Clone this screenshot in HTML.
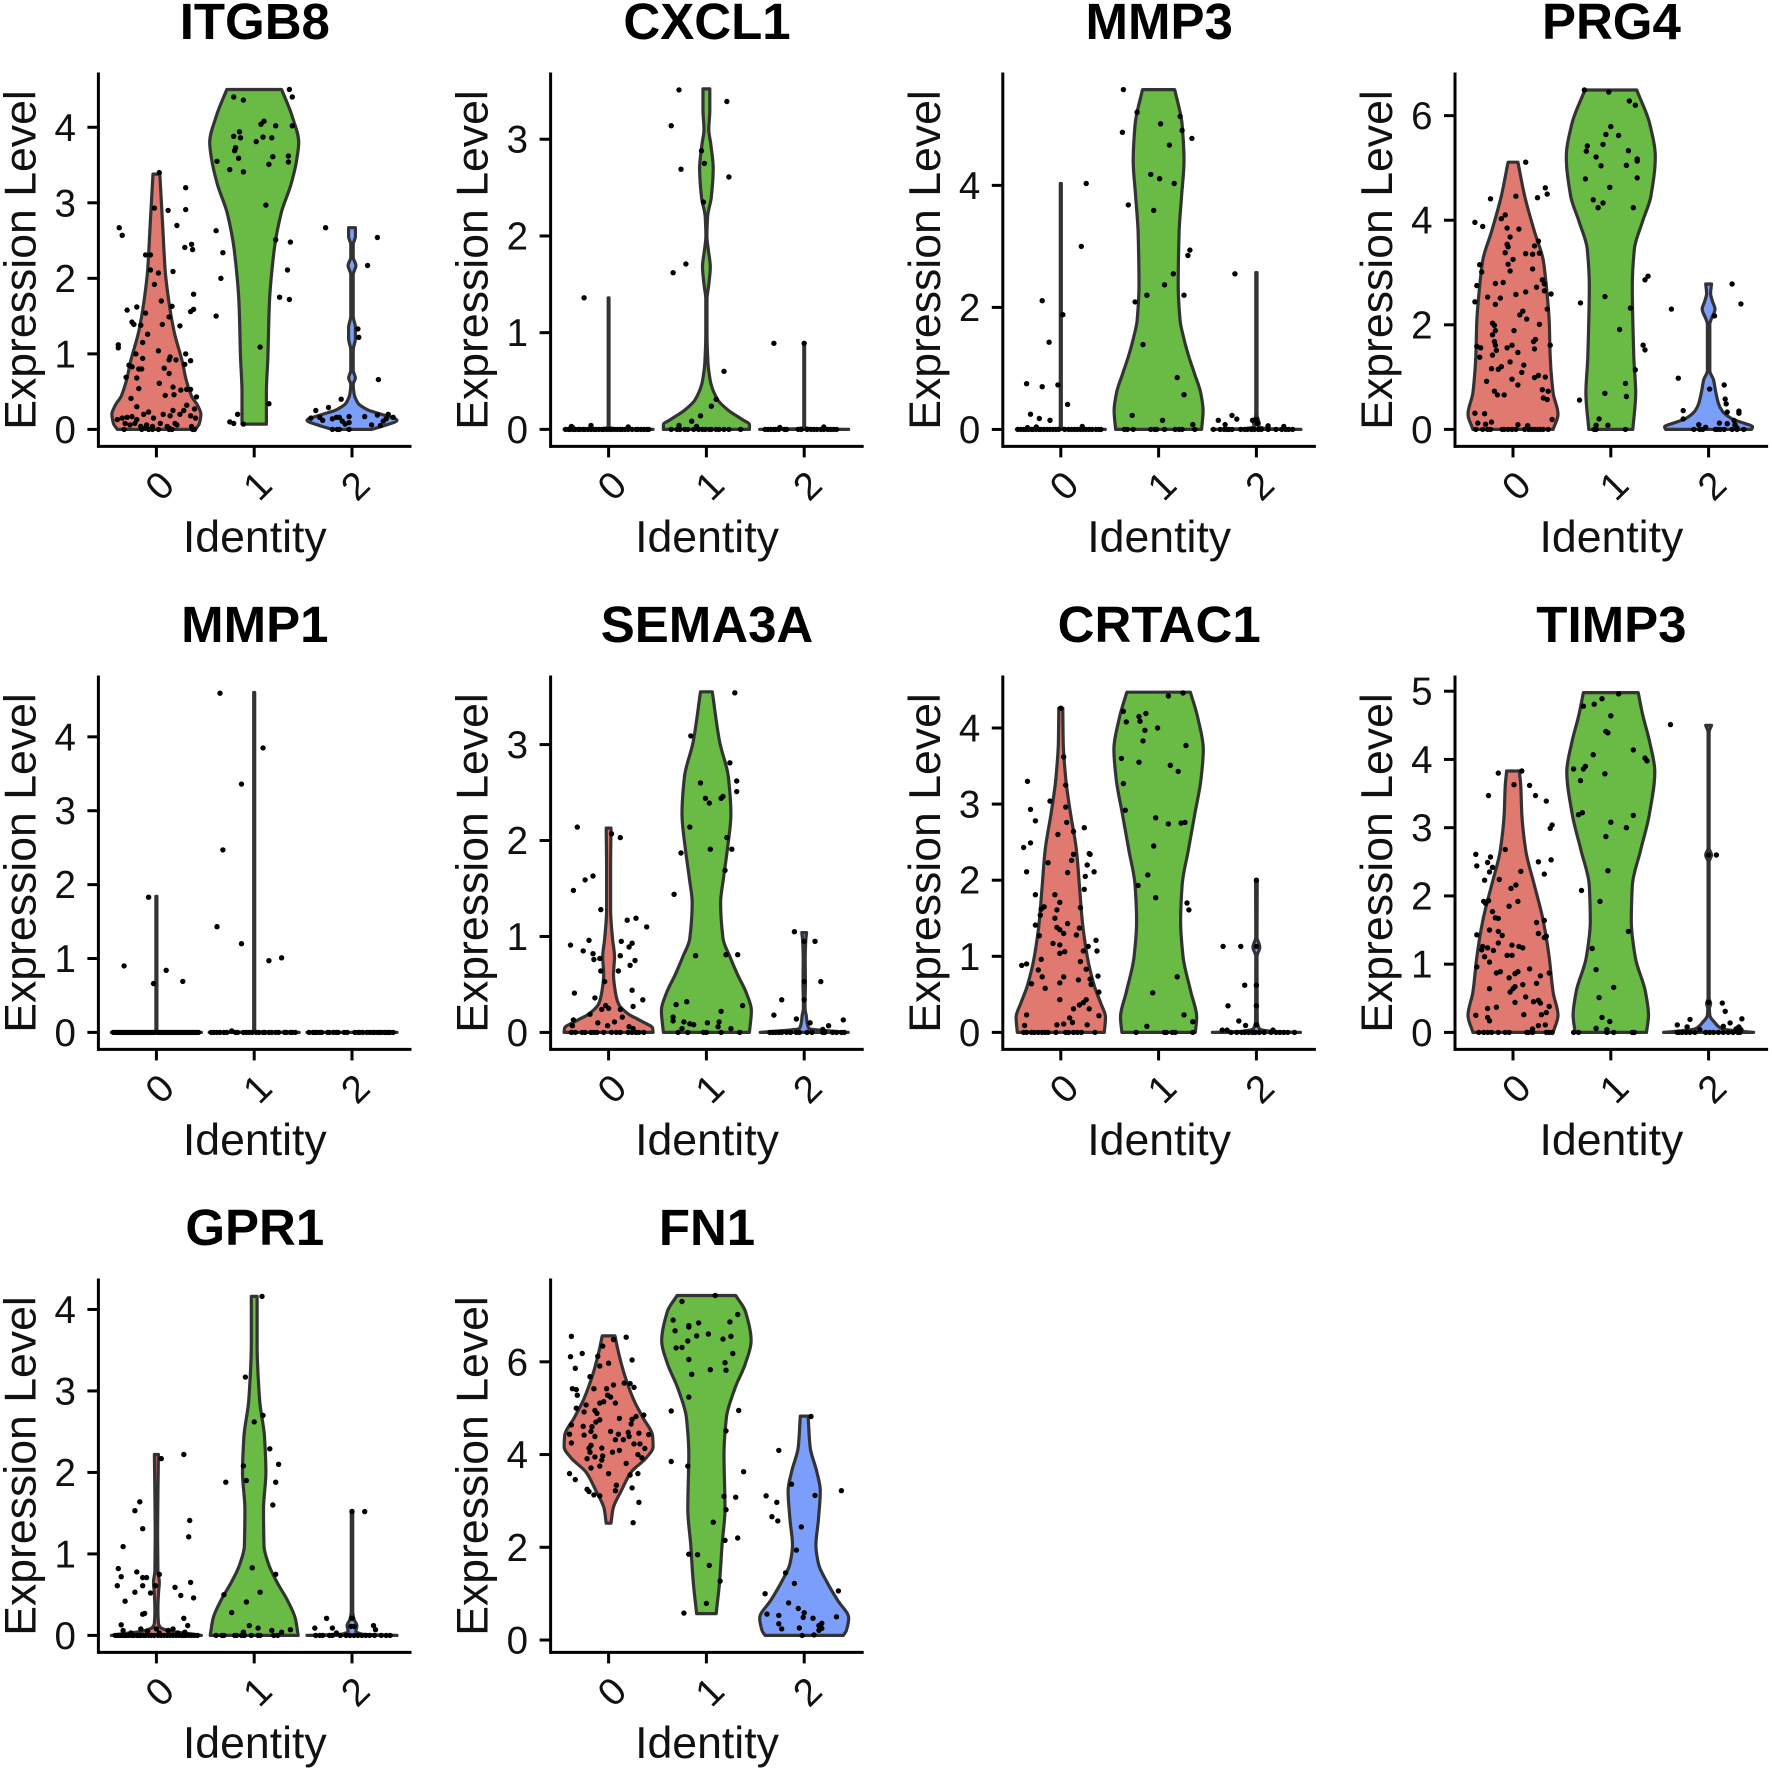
<!DOCTYPE html>
<html lang="en">
<head>
<meta charset="utf-8">
<title>Violin plots of gene expression by identity</title>
<style>
html,body{margin:0;padding:0;background:#fff;width:1772px;height:1770px;overflow:hidden}
svg{display:block;font-family:"Liberation Sans",Arial,sans-serif}
</style>
</head>
<body>
<svg id="chart" xmlns="http://www.w3.org/2000/svg" width="1772" height="1770" viewBox="0 0 1772 1770"></svg>
<script>
const identities=['0','1','2'];
const identityColors=['#E07A70','#6ABB45','#7A9EFA'];
const genes=['ITGB8','CXCL1','MMP3','PRG4','MMP1','SEMA3A','CRTAC1','TIMP3','GPR1','FN1'];
const yAxisTitle='Expression Level';
const xAxisTitle='Identity';

/* ITGB8 */
const ITGB8_ticks=[0,1,2,3,4];
const ITGB8_domain=[-.225,4.725];
const ITGB8_shape0=[[0,.40],[.08,.44],[.2,.455],[.32,.42],[.44,.36],[.68,.30],[.87,.27],[1.3,.18],[1.67,.13],[2.1,.09],[2.67,.065],[3.38,.035]];
const ITGB8_shape1=[[.07,.125],[.49,.125],[.96,.14],[1.67,.155],[2.38,.205],[2.86,.275],[3.24,.375],[3.57,.435],[3.8,.455],[4.14,.39],[4.5,.28]];
const ITGB8_shape2=[[0,.2],[.05,.33],[.12,.46],[.2,.3],[.26,.16],[.35,.06],[.48,.02],[.6,.012],[.68,.035],[.78,.012],[1.05,.012],[1.2,.035],[1.35,.035],[1.5,.012],[2.05,.012],[2.17,.04],[2.28,.012],[2.45,.012],[2.55,.035],[2.67,.035]];
const ITGB8_dots0=[[-.38,2.67],[-.35,2.57],[.3,3.2],[.3,2.91],[-.02,2.93],[.03,3.4],[.12,2.9],[.21,2.7],[.29,2.41],[.36,2.45],[.37,2.38],[-.11,2.31],[-.06,2.31],[-.06,2.11],[.02,2.07],[.17,2.09],[-.02,1.92],[.38,1.79],[.05,1.7],[.16,1.63],[-.2,1.62],[-.3,1.58],[.38,1.59],[.35,1.56],[-.11,1.54],[.13,1.49],[-.25,1.42],[-.23,1.39],[-.16,1.38],[.06,1.39],[.24,1.37],[-.09,1.26],[-.14,1.15],[-.39,1.12],[-.39,1.08],[.02,1.04],[-.21,1],[.3,1],[-.14,.94],[.14,.96],[.13,.92],[.2,.92],[.35,.91],[-.28,.85],[-.25,.83],[.29,.86],[-.18,.8],[-.15,.8],[.08,.81],[.13,.74],[-.31,.69],[-.2,.68],[.03,.61],[.17,.56],[-.18,.54],[.25,.52],[.31,.53],[.35,.53],[.18,.46],[.09,.45],[.41,.43],[-.26,.41],[-.2,.3],[.31,.32],[.17,.25],[.39,.27],[.28,.25],[-.4,.13],[-.35,.15],[-.3,.16],[-.25,.17],[-.2,.13],[-.13,.2],[-.08,.23],[-.03,.15],[.07,.2],[.14,.18],[.24,.2],[.35,.18],[.4,.15],[-.32,.08],[-.27,.06],[-.22,.08],[-.16,.04],[-.1,.06],[-.05,.01],[.04,.08],[.14,.01],[.21,.06],[.36,.04],[.11,.04],[.19,.08],[-.11,.02],[-.04,.04]];
const ITGB8_zero0=[-.33,-.15,-.08,-.04,.02,.13,.16,.37,.39];
const ITGB8_dots1=[[.36,4.5],[.39,4.4],[-.21,4.4],[-.11,4.36],[.1,4.08],[.07,4.04],[.22,4.02],[.39,4.02],[-.15,3.94],[-.21,3.88],[-.14,3.86],[.09,3.87],[.18,3.86],[.02,3.81],[-.19,3.73],[-.2,3.69],[.35,3.62],[.19,3.61],[-.16,3.59],[-.38,3.55],[.35,3.54],[.15,3.51],[-.25,3.44],[-.11,3.41],[.12,2.97],[-.39,2.63],[.22,2.51],[.37,2.48],[-.32,2.34],[.34,2.11],[-.34,2],[.26,1.75],[.36,1.72],[-.39,1.5],[.06,1.09],[.15,.34],[-.17,.2],[-.25,.1],[-.21,.08],[-.11,.07]];
const ITGB8_zero1=[];
const ITGB8_dots2=[[-.27,2.67],[.26,2.54],[.16,2.17],[.06,1.33],[.07,1.22],[.27,.66],[-.11,.4],[-.24,.29],[-.37,.25],[-.03,.17],[.13,.17],[.26,.19],[.37,.2],[-.16,.16],[-.33,.16],[-.03,.09],[-.1,.11],[.32,.11],[.2,.06],[.29,.05],[-.42,.15],[-.3,.12],[-.2,.14],[-.13,.16],[-.07,.07],[.35,.14],[.42,.16]];
const ITGB8_zero2=[-.2,-.15,-.13,-.03];

/* CXCL1 */
const CXCL1_ticks=[0,1,2,3];
const CXCL1_domain=[-.176,3.69];
const CXCL1_shape0=[[0,.455],[.008,.06],[.02,.004],[1.36,.004]];
const CXCL1_shape1=[[0,.44],[.05,.44],[.1,.37],[.2,.22],[.3,.12],[.4,.07],[.5,.04],[.7,.015],[1,.006],[1.35,.006],[1.5,.025],[1.68,.04],[1.85,.02],[2,.005],[2.2,.012],[2.4,.05],[2.7,.07],[2.95,.045],[3.1,.025],[3.3,.035],[3.52,.035]];
const CXCL1_shape2=[[0,.455],[.008,.06],[.02,.004],[.89,.004]];
const CXCL1_dots0=[[-.25,1.36],[-.38,.03],[-.37,.02],[-.18,.04],[.2,.025]];
const CXCL1_zero0=[-.44,-.41,-.39,-.36,-.34,-.31,-.29,-.26,-.24,-.21,-.18,-.15,-.13,-.1,-.07,-.05,-.02,.01,.03,.06,.09,.12,.14,.17,.2,.24,.28,.3,.33,.36,.39,.41];
const CXCL1_dots1=[[-.28,3.51],[.21,3.39],[-.36,3.14],[-.05,2.88],[-.02,2.75],[-.26,2.69],[.23,2.61],[-.03,2.35],[-.21,1.71],[-.34,1.62],[.18,.6],[.1,.31],[.05,.24],[-.06,.14],[-.15,.085],[-.28,.04],[-.1,.03]];
const CXCL1_zero1=[-.36,-.3,-.27,-.22,-.19,-.13,-.08,-.04,-.01,.03,.05,.1,.13,.18,.23,.35];
const CXCL1_dots2=[[-.31,.89],[0,.89],[-.25,.02],[.2,.025]];
const CXCL1_zero2=[-.4,-.37,-.34,-.31,-.29,-.26,-.2,-.18,-.06,-.03,.03,.07,.1,.13,.17,.2,.24,.27,.3,.33];

/* MMP3 */
const MMP3_ticks=[0,2,4];
const MMP3_domain=[-.278,5.85];
const MMP3_shape0=[[0,.455],[.01,.05],[.03,.005],[4.03,.005]];
const MMP3_shape1=[[0,.44],[.31,.455],[.6,.43],[.9,.37],[1.19,.31],[1.48,.26],[1.78,.22],[2.36,.2],[3.24,.21],[3.83,.235],[4.41,.26],[5,.24],[5.57,.165]];
const MMP3_shape2=[[0,.455],[.015,.1],[.05,.02],[.1,.03],[.15,.02],[.25,.006],[2.57,.006]];
const MMP3_dots0=[[.26,4.03],[.21,3],[-.19,2.11],[.02,1.88],[-.12,1.43],[-.35,.75],[-.19,.7],[-.03,.73],[.07,.41],[-.31,.25],[-.22,.18],[-.11,.15],[-.34,.03],[-.25,.04],[.22,.05]];
const MMP3_zero0=[-.44,-.41,-.38,-.36,-.33,-.3,-.28,-.25,-.22,-.2,-.17,-.14,-.11,-.08,-.05,-.02,.04,.08,.11,.14,.17,.2,.23,.26,.29,.32,.36,.39,.41];
const MMP3_dots1=[[-.36,5.57],[-.22,5.2],[.22,5.13],[.02,5.01],[.24,4.9],[-.37,4.87],[.34,4.77],[.11,4.66],[-.08,4.18],[.01,4.11],[.16,4.03],[-.31,3.68],[-.05,3.59],[.32,2.94],[.3,2.85],[.15,2.55],[.06,2.37],[-.12,2.2],[.26,2.2],[-.24,2.09],[-.16,1.39],[.19,.85],[.26,.57],[-.27,.23],[.04,.15],[.35,.08]];
const MMP3_zero1=[-.35,-.32,-.26,-.08,-.04,-.02,.06,.17,.21,.24,.37];
const MMP3_dots2=[[-.22,2.55],[-.39,.15],[-.25,.23],[-.2,.17],[-.32,.08],[-.04,.15],[0,.16],[.12,.06],[.28,.05],[.01,.1]];
const MMP3_zero2=[-.44,-.37,-.33,-.3,-.28,-.25,-.16,-.12,-.09,-.05,-.02,.02,.05,.12,.2,.26,.3,.33,.37];

/* PRG4 */
const PRG4_ticks=[0,2,4,6];
const PRG4_domain=[-.325,6.825];
const PRG4_shape0=[[0,.41],[.29,.46],[.7,.41],[1.39,.38],[2.07,.37],[2.75,.34],[3.23,.31],[3.78,.22],[4.46,.12],[5.11,.05]];
const PRG4_shape1=[[0,.225],[.7,.255],[1.39,.235],[2.75,.22],[3.44,.24],[3.98,.325],[4.46,.41],[5.21,.455],[5.83,.40],[6.49,.265]];
const PRG4_shape2=[[0,.44],[.05,.45],[.12,.36],[.2,.24],[.35,.14],[.5,.10],[.75,.07],[.95,.05],[1.12,.012],[1.7,.012],[2.02,.012],[2.12,.03],[2.3,.065],[2.45,.04],[2.6,.02],[2.78,.03]];
const PRG4_dots0=[[.13,5.11],[.33,4.62],[.35,4.5],[.25,4.43],[-.23,4.41],[.03,4.46],[-.08,4.1],[-.12,4.03],[-.39,3.96],[-.31,3.88],[-.06,3.85],[.06,3.83],[-.03,3.68],[.26,3.6],[-.06,3.54],[-.05,3.49],[.22,3.51],[-.08,3.38],[0,3.25],[.13,3.36],[.2,3.35],[.27,3.37],[-.05,3.16],[-.34,3.15],[.2,3.07],[-.03,3.03],[-.32,3.01],[-.1,2.81],[-.18,2.79],[.3,2.86],[.32,2.78],[-.37,2.75],[.24,2.72],[.13,2.63],[.32,2.65],[.39,2.59],[.03,2.58],[-.26,2.53],[-.13,2.51],[-.39,2.44],[-.18,2.39],[.35,2.3],[.1,2.26],[.07,2.19],[.14,2.11],[.27,2.01],[-.21,2.03],[-.19,1.99],[.01,1.89],[-.18,1.89],[-.21,1.81],[.23,1.72],[.21,1.68],[-.19,1.68],[-.18,1.61],[-.01,1.61],[.38,1.61],[-.37,1.59],[-.33,1.56],[-.06,1.56],[.22,1.54],[-.17,1.51],[.05,1.47],[-.21,1.42],[-.34,1.38],[-.03,1.29],[.11,1.23],[-.12,1.2],[-.15,1.15],[-.22,1.16],[.09,1.09],[.26,1.03],[.22,.99],[.33,1],[-.01,.96],[-.27,.92],[.05,.85],[-.19,.73],[-.16,.66],[-.09,.66],[.3,.76],[.36,.73],[.31,.6],[.35,.57],[-.39,.31],[-.29,.3],[.4,.19],[-.36,.12],[-.28,.1],[-.22,.14],[.05,.09],[.15,.07]];
const PRG4_zero0=[-.38,-.31,-.26,-.23,-.11,-.09,-.05,-.01,.03,.12,.16,.19,.22,.25,.28,.31,.36];
const PRG4_dots1=[[-.27,6.49],[-.02,6.45],[.19,6.28],[.25,6.2],[0,5.79],[-.05,5.64],[.08,5.62],[-.24,5.42],[-.08,5.45],[-.25,5.32],[.18,5.33],[-.15,5.21],[.27,5.17],[.27,5.13],[-.1,5.04],[.16,5.05],[-.26,4.79],[.27,4.81],[-.01,4.63],[-.18,4.39],[-.08,4.33],[-.13,4.24],[.23,4.24],[.38,2.93],[.35,2.86],[-.06,2.54],[-.31,2.42],[.2,2.32],[.09,1.91],[.33,1.61],[.35,1.52],[.25,1.14],[.15,.88],[-.06,.69],[.16,.63],[-.32,.56],[-.12,.2],[-.15,.08],[-.03,.08]];
const PRG4_zero1=[-.17,-.15,.15];
const PRG4_dots2=[[.24,2.78],[-.38,2.3],[.33,2.4],[.06,2.17],[-.31,.98],[.16,.85],[.01,.77],[.17,.58],[.18,.49],[-.26,.36],[.31,.35],[.31,.31],[.19,.33],[-.26,.2],[.26,.17],[.11,.12],[.19,.11],[.27,.09],[-.1,.09],[-.03,.04],[.29,.03]];
const PRG4_zero2=[-.15,-.09,-.06,.07,.09,.12,.16,.24,.29,.36];

/* MMP1 */
const MMP1_ticks=[0,1,2,3,4];
const MMP1_domain=[-.23,4.83];
const MMP1_shape0=[[0,.46],[.006,.04],[.02,.005],[1.84,.005]];
const MMP1_shape1=[[0,.46],[.006,.04],[.02,.005],[4.6,.005]];
const MMP1_shape2=[[0,.46],[0,.46]];
const MMP1_dots0=[[-.33,.9],[-.08,1.83],[-.03,.66],[.1,.84],[.27,.69]];
const MMP1_zero0=[-.44,-.42,-.4,-.38,-.36,-.34,-.32,-.3,-.28,-.26,-.24,-.22,-.2,-.18,-.16,-.14,-.12,-.1,-.08,-.06,-.04,-.02,.01,.03,.05,.07,.09,.11,.13,.15,.17,.19,.21,.23,.25,.27,.29,.31,.33,.35,.37,.39,.41,.43];
const MMP1_dots1=[[-.35,4.59],[.09,3.85],[-.13,3.36],[-.32,2.47],[-.38,1.43],[-.13,1.2],[.15,.97],[.28,1.01],[-.23,.02]];
const MMP1_zero1=[-.44,-.41,-.38,-.35,-.31,-.28,-.19,-.17,-.11,-.08,-.05,-.02,.02,.05,.09,.11,.15,.18,.22,.25,.31,.33,.37,.39,.42];
const MMP1_dots2=[];
const MMP1_zero2=[-.44,-.4,-.38,-.36,-.33,-.31,-.25,-.23,-.19,-.16,-.14,-.08,-.05,.03,.06,.08,.11,.15,.18,.21,.23,.26,.28,.3,.33,.35,.37,.39,.42];

/* SEMA3A */
const SEMA3A_ticks=[0,1,2,3];
const SEMA3A_domain=[-.177,3.72];
const SEMA3A_shape0=[[0,.455],[.045,.45],[.12,.33],[.2,.19],[.3,.10],[.42,.07],[.6,.05],[.79,.06],[.98,.04],[1.28,.02],[1.72,.02],[2.13,.025]];
const SEMA3A_shape1=[[0,.44],[.23,.46],[.42,.405],[.6,.32],[.79,.24],[.98,.17],[1.35,.145],[1.61,.175],[1.91,.215],[2.28,.25],[2.66,.225],[3.03,.135],[3.55,.06]];
const SEMA3A_shape2=[[0,.45],[.02,.2],[.04,.05],[.1,.03],[.18,.02],[.25,.008],[.3,.008],[.5,.012],[.75,.01],[.95,.015],[1.04,.025]];
const SEMA3A_dots0=[[-.32,2.14],[.03,2.07],[.12,2.03],[-.16,1.63],[-.24,1.59],[-.36,1.48],[-.08,1.28],[.28,1.19],[.19,1.17],[.39,1.1],[-.2,.96],[.13,.95],[.24,.93],[-.39,.91],[.21,.89],[-.26,.85],[-.16,.82],[.12,.8],[-.09,.77],[-.15,.76],[.27,.75],[.22,.7],[-.08,.64],[.1,.64],[-.04,.53],[.24,.44],[-.35,.41],[-.14,.36],[.35,.34],[.25,.27],[-.03,.28],[0,.25],[-.07,.24],[.12,.24],[-.19,.19],[.14,.16],[-.36,.13],[-.11,.1],[.06,.11],[-.01,.07],[-.37,.07],[.21,.06],[.25,.04]];
const SEMA3A_zero0=[-.38,-.34,-.27,-.24,-.18,-.15,-.12,-.05,.03,.08,.12,.2,.24,.28,.31,.36];
const SEMA3A_dots1=[[.29,3.54],[-.16,3.09],[.24,2.81],[.31,2.62],[-.06,2.6],[.31,2.51],[-.01,2.44],[.17,2.46],[.15,2.44],[.03,2.39],[-.17,2.14],[.21,2.03],[.26,1.91],[.04,1.91],[-.26,1.87],[.19,1.69],[-.33,1.44],[-.11,.8],[.2,.81],[.32,.81],[-.31,.29],[-.2,.32],[.37,.28],[.15,.22],[-.34,.16],[-.34,.12],[-.23,.11],[-.17,.09],[-.13,.08],[.01,.1],[.13,.11],[.12,.06],[-.25,.04],[.25,.04]];
const SEMA3A_zero1=[-.29,-.19,-.03,0,.15,.34];
const SEMA3A_dots2=[[-.1,1.05],[.11,.95],[.17,.53],[-.23,.34],[-.31,.18],[-.08,.14],[.4,.13],[.06,.1],[.25,.07],[.19,.03],[0,.95],[0,.53],[0,.34]];
const SEMA3A_zero2=[-.35,-.32,-.29,-.26,-.23,-.18,-.14,-.08,-.05,.03,.08,.19,.21,.29,.33,.38,.41];

/* CRTAC1 */
const CRTAC1_ticks=[0,1,2,3,4];
const CRTAC1_domain=[-.2235,4.69];
const CRTAC1_shape0=[[0,.445],[.2,.457],[.38,.41],[.62,.34],[1,.27],[1.46,.22],[1.93,.19],[2.4,.16],[2.87,.10],[3.34,.05],[3.81,.025],[4.26,.02]];
const CRTAC1_shape1=[[0,.375],[.2,.39],[.53,.33],[1,.25],[1.46,.225],[1.93,.24],[2.4,.305],[2.87,.37],[3.34,.435],[3.72,.457],[4.14,.40],[4.47,.325]];
const CRTAC1_shape2=[[0,.45],[.015,.15],[.05,.03],[.15,.008],[1,.006],[1.12,.035],[1.25,.006],[2,.008]];
const CRTAC1_dots0=[[0,4.26],[.03,3.62],[.05,3.25],[-.34,3.3],[-.11,3.04],[-.31,2.93],[.05,2.96],[-.26,2.78],[.06,2.76],[.24,2.69],[.13,2.64],[-.03,2.6],[-.31,2.49],[-.38,2.43],[.13,2.34],[.29,2.35],[.3,2.34],[.11,2.26],[-.13,2.23],[.27,2.2],[.07,2.1],[-.35,2.11],[.34,2.11],[.25,2.05],[.24,1.88],[-.26,1.81],[-.06,1.81],[-.01,1.71],[.2,1.64],[-.17,1.65],[-.2,1.62],[-.04,1.61],[-.21,1.54],[-.06,1.5],[.07,1.43],[-.26,1.41],[-.04,1.38],[-.01,1.35],[.03,1.3],[-.22,1.27],[.16,1.28],[.19,1.37],[.36,1.21],[-.08,1.17],[-.01,1.15],[.28,1.13],[.23,1.07],[.37,1.07],[-.01,1.04],[.04,1.06],[-.2,.96],[.2,.93],[-.35,.9],[-.4,.88],[-.23,.82],[.26,.83],[-.19,.73],[.03,.73],[.38,.74],[.3,.7],[.18,.69],[-.01,.65],[-.3,.64],[.31,.63],[-.16,.58],[.39,.53],[.26,.43],[-.01,.43],[.23,.39],[.19,.36],[.13,.31],[.29,.31],[-.35,.23],[.39,.22],[.09,.19],[.12,.13],[.03,.11],[-.04,.1],[.27,.1],[-.37,.09]];
const CRTAC1_zero0=[-.38,-.35,-.3,-.27,-.23,-.19,-.16,-.13,-.05,.05,.08,.13,.17,.21,.35];
const CRTAC1_dots1=[[.25,4.46],[.1,4.42],[-.36,4.22],[-.13,4.19],[-.2,4.15],[-.19,4.09],[-.33,4.08],[-.01,4],[-.14,3.97],[-.16,3.83],[.28,3.77],[-.38,3.6],[-.2,3.55],[.12,3.51],[.2,3.43],[-.36,3.27],[-.34,2.92],[-.03,2.82],[.1,2.74],[.23,2.75],[.27,2.76],[-.05,2.45],[-.11,2.07],[-.21,1.93],[.29,1.7],[.31,1.61],[-.03,1.77],[.19,.73],[-.06,.52],[.26,.23],[.35,.14],[-.12,.08]];
const CRTAC1_zero1=[-.23,.06,.08,.14,.17,.35];
const CRTAC1_dots2=[[-.34,1.13],[-.16,1.13],[0,2],[-.12,.62],[-.29,.35],[-.18,.15],[-.11,.09],[0,.1],[-.35,.03],[-.3,.03],[.17,.03],[0,1.13],[0,.62],[0,.35]];
const CRTAC1_zero2=[-.26,-.2,-.15,-.12,-.08,-.04,-.01,.03,.08,.15,.2,.24,.28,.32,.39];

/* TIMP3 */
const TIMP3_ticks=[0,1,2,3,4,5];
const TIMP3_domain=[-.249,5.23];
const TIMP3_shape0=[[0,.41],[.25,.46],[.59,.41],[1.1,.37],[1.63,.31],[2.15,.22],[2.67,.13],[3.2,.09],[3.6,.08],[3.83,.065]];
const TIMP3_shape1=[[0,.365],[.25,.385],[.59,.355],[1.1,.25],[1.63,.21],[2.15,.22],[2.67,.305],[3.2,.395],[3.82,.45],[4.24,.40],[4.66,.325],[4.98,.28]];
const TIMP3_shape2=[[0,.46],[.02,.3],[.05,.14],[.1,.09],[.15,.06],[.2,.03],[.25,.012],[.35,.008],[.42,.02],[.5,.005],[2.5,.005],[2.6,.03],[2.7,.005],[4.4,.005],[4.5,.03]];
const TIMP3_dots0=[[.09,3.83],[-.15,3.8],[.01,3.63],[.17,3.62],[-.25,3.47],[.23,3.47],[.34,3.39],[.4,3.04],[.38,2.99],[-.08,2.68],[-.38,2.61],[-.23,2.57],[.39,2.53],[-.26,2.49],[.26,2.5],[-.37,2.44],[-.21,2.42],[-.24,2.35],[.08,2.36],[.32,2.32],[-.29,2.23],[-.14,2.24],[.03,2.16],[-.02,2.11],[.05,1.92],[-.25,1.93],[-.3,1.92],[-.28,1.89],[-.04,1.85],[-.21,1.77],[-.18,1.68],[-.15,1.67],[.32,1.64],[.24,1.61],[-.24,1.5],[-.15,1.48],[.26,1.45],[-.11,1.42],[-.37,1.43],[.34,1.41],[.32,1.39],[-.15,1.31],[-.01,1.28],[-.31,1.26],[.06,1.26],[.1,1.24],[-.26,1.24],[-.32,1.21],[-.2,1.2],[-.06,1.13],[-.01,1.13],[-.29,1.11],[-.24,1.03],[-.37,.96],[.17,.93],[-.13,.89],[-.17,.87],[.05,.89],[.02,.86],[.37,.87],[.28,.83],[-.04,.8],[.24,.72],[.1,.7],[.02,.67],[0,.64],[-.24,.64],[-.03,.59],[.13,.52],[.26,.47],[.21,.45],[.28,.43],[.02,.44],[.37,.38],[-.26,.35],[-.17,.37],[.34,.29],[.29,.26],[-.38,.25],[.11,.26],[-.26,.22],[-.24,.17],[.33,.11],[.26,.1],[.2,.05]];
const TIMP3_zero0=[-.35,-.3,-.26,-.22,-.15,-.08,-.04,.14,.16,.2,.34,.37,.4];
const TIMP3_dots1=[[.08,4.96],[-.09,4.89],[-.17,4.81],[-.28,4.78],[0,4.64],[-.05,4.41],[-.03,4.39],[.23,4.14],[-.18,4.07],[.35,4.02],[.37,3.98],[-.26,3.9],[-.28,3.86],[-.38,3.86],[-.06,3.79],[-.31,3.69],[-.29,3.22],[-.33,3.19],[.23,3.18],[0,3.08],[.16,3],[-.05,2.87],[-.03,2.37],[-.3,2.08],[-.11,1.92],[.18,1.48],[-.19,1.23],[-.15,.92],[.03,.66],[-.12,.51],[-.09,.22],[-.01,.16],[-.15,.06],[-.04,.04]];
const TIMP3_zero1=[-.38,-.33,-.04,.03,.22,.24];
const TIMP3_dots2=[[-.39,4.51],[.08,2.6],[.14,.43],[.17,.31],[-.19,.19],[.34,.2],[-.32,.11],[.22,.14],[0,.44],[-.22,.08],[.15,.09],[.31,.08],[-.09,.04],[0,2.6],[.28,.05],[.33,.04]];
const TIMP3_zero2=[-.32,-.3,-.27,-.23,-.19,-.14,-.03,.01,.05,.1,.15,.2,.25,.3,.32];

/* GPR1 */
const GPR1_ticks=[0,1,2,3,4];
const GPR1_domain=[-.2085,4.38];
const GPR1_shape0=[[0,.46],[.02,.35],[.05,.15],[.1,.04],[.15,.02],[.3,.015],[.5,.02],[.65,.03],[.8,.015],[1.2,.012],[2.22,.02]];
const GPR1_shape1=[[0,.45],[.21,.42],[.43,.34],[.66,.23],[.88,.145],[1.1,.1],[1.55,.095],[2,.12],[2.44,.105],[2.89,.055],[3.56,.03],[4.16,.03]];
const GPR1_shape2=[[0,.46],[.015,.1],[.05,.04],[.12,.05],[.2,.02],[.3,.007],[1.53,.007]];
const GPR1_dots0=[[.28,2.22],[.05,2.17],[-.17,1.64],[-.22,1.53],[.34,1.41],[-.14,1.31],[.33,1.21],[-.34,1.09],[-.39,.82],[-.2,.78],[.03,.75],[-.36,.72],[-.14,.71],[-.1,.71],[.35,.65],[-.4,.61],[-.14,.61],[-.01,.61],[.19,.59],[-.22,.53],[-.06,.52],[.25,.49],[.38,.46],[-.32,.42],[-.12,.27],[-.14,.26],[.28,.21],[-.36,.13],[.32,.12],[-.16,.08],[-.34,.06],[0,.08],[.12,.06],[.17,.08],[-.09,.05],[.29,.04],[-.26,.03],[.03,.03],[.22,.03]];
const GPR1_zero0=[-.42,-.4,-.38,-.36,-.34,-.32,-.3,-.28,-.25,-.23,-.2,-.18,-.16,-.13,-.11,-.08,-.05,-.02,.02,.05,.08,.11,.14,.17,.2,.23,.26,.28,.3,.33,.36,.39,.42];
const GPR1_dots1=[[.08,4.16],[-.09,3.17],[.09,2.7],[0,2.62],[.16,2.29],[.25,2.1],[-.11,2.08],[-.08,1.9],[-.29,1.88],[.22,1.88],[.19,1.6],[-.02,.83],[.22,.75],[-.31,.5],[.06,.53],[-.08,.41],[-.23,.28],[-.05,.12],[.04,.09],[.37,.07],[.18,.06],[-.11,.04],[.28,.04]];
const GPR1_zero1=[-.39,-.33,-.31,-.2,-.18,-.13,-.1,-.03,.04,.06,.2,.24];
const GPR1_dots2=[[.13,1.52],[0,1.52],[-.26,.21],[0,.21],[-.38,.09],[-.2,.09],[.22,.12],[.24,.07],[-.01,.11],[.02,.11],[-.16,.03]];
const GPR1_zero2=[-.37,-.33,-.3,-.23,-.2,-.12,-.06,-.02,.02,.06,.1,.14,.18,.23,.3,.35,.39];

/* FN1 */
const FN1_ticks=[0,2,4,6];
const FN1_domain=[-.267,7.797];
const FN1_shape0=[[2.52,.025],[2.83,.045],[3.22,.13],[3.62,.23],[3.93,.385],[4.17,.455],[4.4,.45],[4.8,.35],[5.19,.255],[5.74,.16],[6.21,.10],[6.56,.065]];
const FN1_shape1=[[.57,.10],[1.26,.135],[2.04,.16],[2.83,.19],[4,.18],[4.8,.205],[5.42,.29],[5.97,.40],[6.45,.457],[7.08,.40],[7.43,.30]];
const FN1_shape2=[[.1,.40],[.2,.43],[.47,.455],[.86,.34],[1.26,.23],[1.65,.145],[2.04,.12],[2.59,.145],[3.22,.165],[3.62,.13],[4.17,.06],[4.83,.04]];
const FN1_dots0=[[-.38,6.55],[.18,6.53],[.05,6.48],[-.06,6.34],[-.27,6.18],[-.39,6.11],[-.11,6.12],[.24,6.04],[0,5.97],[-.09,5.91],[-.34,5.86],[-.19,5.68],[.05,5.5],[.16,5.54],[.22,5.53],[-.15,5.42],[-.02,5.42],[-.37,5.42],[-.33,5.4],[.26,5.45],[-.32,5.28],[-.01,5.28],[.02,5.24],[-.05,5.14],[-.09,5.11],[.07,5.11],[-.23,5.07],[-.33,5],[-.14,4.95],[-.25,4.92],[-.12,4.89],[.36,4.85],[.28,4.82],[.11,4.78],[.24,4.76],[-.09,4.75],[-.13,4.7],[.23,4.66],[-.38,4.64],[-.26,4.61],[-.17,4.6],[-.18,4.5],[.02,4.5],[-.4,4.44],[.2,4.48],[.31,4.46],[.41,4.43],[-.25,4.42],[-.14,4.39],[.1,4.44],[.21,4.39],[.07,4.32],[.15,4.32],[-.38,4.25],[.26,4.23],[.32,4.23],[-.18,4.2],[-.2,4.14],[-.07,4.14],[.37,4.13],[.11,4.09],[-.19,4.05],[.04,4.05],[.3,4],[-.06,3.97],[.34,3.93],[-.14,3.95],[-.22,3.91],[-.07,3.88],[.18,3.81],[-.18,3.71],[-.09,3.75],[0,3.59],[.3,3.59],[.22,3.56],[-.4,3.59],[-.34,3.46],[.08,3.34],[.24,3.28],[-.22,3.25],[.07,3.22],[-.2,3.2],[-.15,3.13],[-.09,3.11],[.31,2.97],[.25,2.53]];
const FN1_zero0=[];
const FN1_dots1=[[.09,7.43],[-.25,7.3],[.32,7.02],[-.34,6.9],[.24,6.86],[-.08,6.84],[-.18,6.78],[-.18,6.75],[-.32,6.67],[.02,6.6],[-.1,6.56],[.25,6.55],[.17,6.49],[-.19,6.45],[-.31,6.3],[-.25,6.31],[.27,6.18],[-.18,6.05],[.19,5.98],[.04,5.83],[.2,5.82],[-.15,5.73],[-.18,5.24],[.33,4.95],[-.36,4.94],[.2,4.51],[-.36,3.85],[-.19,3.75],[.38,3.63],[.18,3.1],[.3,3.08],[.2,2.81],[.07,2.54],[.32,2.2],[.19,2.15],[-.18,1.85],[-.09,1.84],[.03,1.61],[.14,1.27],[0,.79],[-.23,.58]];
const FN1_zero1=[];
const FN1_dots2=[[.07,4.82],[-.26,4.09],[-.13,3.36],[.38,3.22],[-.39,3.11],[.11,3.12],[-.28,2.97],[-.33,2.66],[-.27,2.57],[-.03,2.44],[-.08,1.94],[-.19,1.45],[-.1,1.22],[.35,1.06],[-.4,1],[-.16,.8],[-.06,.68],[0,.59],[-.38,.56],[-.26,.53],[-.01,.49],[.09,.47],[.33,.5],[-.26,.35],[.18,.36],[.15,.31],[-.23,.24],[-.05,.26],[.18,.25],[.15,.21],[-.02,.1],[.1,.11]];
const FN1_zero2=[];

const panelTicks=[ITGB8_ticks,CXCL1_ticks,MMP3_ticks,PRG4_ticks,MMP1_ticks,SEMA3A_ticks,CRTAC1_ticks,TIMP3_ticks,GPR1_ticks,FN1_ticks];
const panelDomains=[ITGB8_domain,CXCL1_domain,MMP3_domain,PRG4_domain,MMP1_domain,SEMA3A_domain,CRTAC1_domain,TIMP3_domain,GPR1_domain,FN1_domain];
const panelShapes=[[ITGB8_shape0,ITGB8_shape1,ITGB8_shape2],[CXCL1_shape0,CXCL1_shape1,CXCL1_shape2],[MMP3_shape0,MMP3_shape1,MMP3_shape2],[PRG4_shape0,PRG4_shape1,PRG4_shape2],[MMP1_shape0,MMP1_shape1,MMP1_shape2],[SEMA3A_shape0,SEMA3A_shape1,SEMA3A_shape2],[CRTAC1_shape0,CRTAC1_shape1,CRTAC1_shape2],[TIMP3_shape0,TIMP3_shape1,TIMP3_shape2],[GPR1_shape0,GPR1_shape1,GPR1_shape2],[FN1_shape0,FN1_shape1,FN1_shape2]];
const panelDots=[[ITGB8_dots0,ITGB8_dots1,ITGB8_dots2],[CXCL1_dots0,CXCL1_dots1,CXCL1_dots2],[MMP3_dots0,MMP3_dots1,MMP3_dots2],[PRG4_dots0,PRG4_dots1,PRG4_dots2],[MMP1_dots0,MMP1_dots1,MMP1_dots2],[SEMA3A_dots0,SEMA3A_dots1,SEMA3A_dots2],[CRTAC1_dots0,CRTAC1_dots1,CRTAC1_dots2],[TIMP3_dots0,TIMP3_dots1,TIMP3_dots2],[GPR1_dots0,GPR1_dots1,GPR1_dots2],[FN1_dots0,FN1_dots1,FN1_dots2]];
const panelZeros=[[ITGB8_zero0,ITGB8_zero1,ITGB8_zero2],[CXCL1_zero0,CXCL1_zero1,CXCL1_zero2],[MMP3_zero0,MMP3_zero1,MMP3_zero2],[PRG4_zero0,PRG4_zero1,PRG4_zero2],[MMP1_zero0,MMP1_zero1,MMP1_zero2],[SEMA3A_zero0,SEMA3A_zero1,SEMA3A_zero2],[CRTAC1_zero0,CRTAC1_zero1,CRTAC1_zero2],[TIMP3_zero0,TIMP3_zero1,TIMP3_zero2],[GPR1_zero0,GPR1_zero1,GPR1_zero2],[FN1_zero0,FN1_zero1,FN1_zero2]];

const NS='http://www.w3.org/2000/svg';
const root=document.getElementById('chart');
const COL_STEP=452.2,ROW_STEP=603,AXIS_X=98.4,RIGHT_X=411.5,TOP_Y=72.5,BOTTOM_Y=446.4,CAT_OFFSET=58,CAT_STEP=97.8;

function make(tag,parent,attrs,text){
  const node=document.createElementNS(NS,tag);
  for(const k in attrs){node.setAttribute(k,attrs[k]);}
  if(text!==undefined){node.textContent=text;}
  parent.appendChild(node);
  return node;
}
/* monotone cubic through the outline: x as a function of y, so no overshoot at spike bases */
function smoothSide(pts){
  const n=pts.length,slopes=[],tangents=[];
  for(let i=0;i<n-1;i++){
    const h=pts[i+1][1]-pts[i][1];
    slopes.push(h===0?0:(pts[i+1][0]-pts[i][0])/h);
  }
  tangents.push(slopes[0]);
  for(let i=1;i<n-1;i++){
    const a=slopes[i-1],b=slopes[i];
    tangents.push(a*b<=0?0:2*a*b/(a+b));
  }
  tangents.push(slopes[n-2]);
  let d='';
  for(let i=0;i<n-1;i++){
    const b=pts[i],c=pts[i+1],h=c[1]-b[1];
    const x1=b[0]+tangents[i]*h/3,y1=b[1]+h/3;
    const x2=c[0]-tangents[i+1]*h/3,y2=c[1]-h/3;
    d+='C'+x1.toFixed(1)+' '+y1.toFixed(1)+' '+x2.toFixed(1)+' '+y2.toFixed(1)+' '+c[0].toFixed(1)+' '+c[1].toFixed(1);
  }
  return d;
}

genes.forEach(function(gene,index){
  const col=index%4,row=Math.floor(index/4);
  const dx=col*COL_STEP,dy=row*ROW_STEP;
  const domain=panelDomains[index];
  const yScale=function(v){return dy+BOTTOM_Y-(v-domain[0])/(domain[1]-domain[0])*(BOTTOM_Y-TOP_Y);};
  const xScale=function(cat,offset){return dx+AXIS_X+CAT_OFFSET+(cat+offset)*CAT_STEP;};

  const g=make('g',root,{});
  
  

  const title=make('text',g,{x:dx+254.8,y:dy+39,'text-anchor':'middle','font-size':51,'font-weight':'bold',fill:'#000'},gene);
  
  

  identities.forEach(function(label,cat){
    const shape=panelShapes[index][cat];
    const left=shape.map(function(p){return [xScale(cat,-p[1]),yScale(p[0])];});
    const right=shape.map(function(p){return [xScale(cat,p[1]),yScale(p[0])];}).reverse();
    const d='M'+left[0][0].toFixed(1)+' '+left[0][1].toFixed(1)+smoothSide(left)+'L'+right[0][0].toFixed(1)+' '+right[0][1].toFixed(1)+smoothSide(right)+'Z';
    const violin=make('path',g,{d:d,fill:identityColors[cat],stroke:'#333','stroke-width':3.2,'stroke-linejoin':'round'});
    
    
  });

  identities.forEach(function(label,cat){
    panelDots[index][cat].forEach(function(p){
      const dot=make('circle',g,{cx:xScale(cat,p[0]).toFixed(1),cy:yScale(p[1]).toFixed(1),r:2.7,fill:'#000'});
      
      
    });
    panelZeros[index][cat].forEach(function(j){
      const dot=make('circle',g,{cx:xScale(cat,j).toFixed(1),cy:yScale(0).toFixed(1),r:2.7,fill:'#000'});
      
      
    });
  });

  const yLine=make('line',g,{x1:dx+AXIS_X,x2:dx+AXIS_X,y1:dy+TOP_Y,y2:dy+BOTTOM_Y+1.5,stroke:'#000','stroke-width':3});
  
  
  const xLine=make('line',g,{x1:dx+AXIS_X,x2:dx+RIGHT_X,y1:dy+BOTTOM_Y,y2:dy+BOTTOM_Y,stroke:'#000','stroke-width':3});
  
  

  panelTicks[index].forEach(function(v){
    const y=yScale(v);
    const tick=make('line',g,{x1:dx+AXIS_X-11,x2:dx+AXIS_X,y1:y,y2:y,stroke:'#000','stroke-width':3});
    
    
    const label=make('text',g,{x:dx+AXIS_X-22.5,y:y+13.5,'text-anchor':'end','font-size':38.5,fill:'#111'},String(v));
    
    
  });

  identities.forEach(function(name,cat){
    const x=xScale(cat,0);
    const tick=make('line',g,{x1:x,x2:x,y1:dy+BOTTOM_Y,y2:dy+BOTTOM_Y+11,stroke:'#000','stroke-width':3});
    
    
    const label=make('text',g,{x:0,y:13.5,'text-anchor':'middle','font-size':38.5,fill:'#111',transform:'translate('+(x+3)+' '+(dy+485.5)+') rotate(-45)'},name);
    
    
  });

  const yTitle=make('text',g,{x:0,y:0,'text-anchor':'middle','font-size':44.6,fill:'#111',transform:'translate('+(dx+35.5)+' '+(dy+260)+') rotate(-90)'},yAxisTitle);
  
  
  const xTitle=make('text',g,{x:dx+254.8,y:dy+552,'text-anchor':'middle','font-size':44.6,fill:'#111'},xAxisTitle);
  
  
});
</script>
</body>
</html>
